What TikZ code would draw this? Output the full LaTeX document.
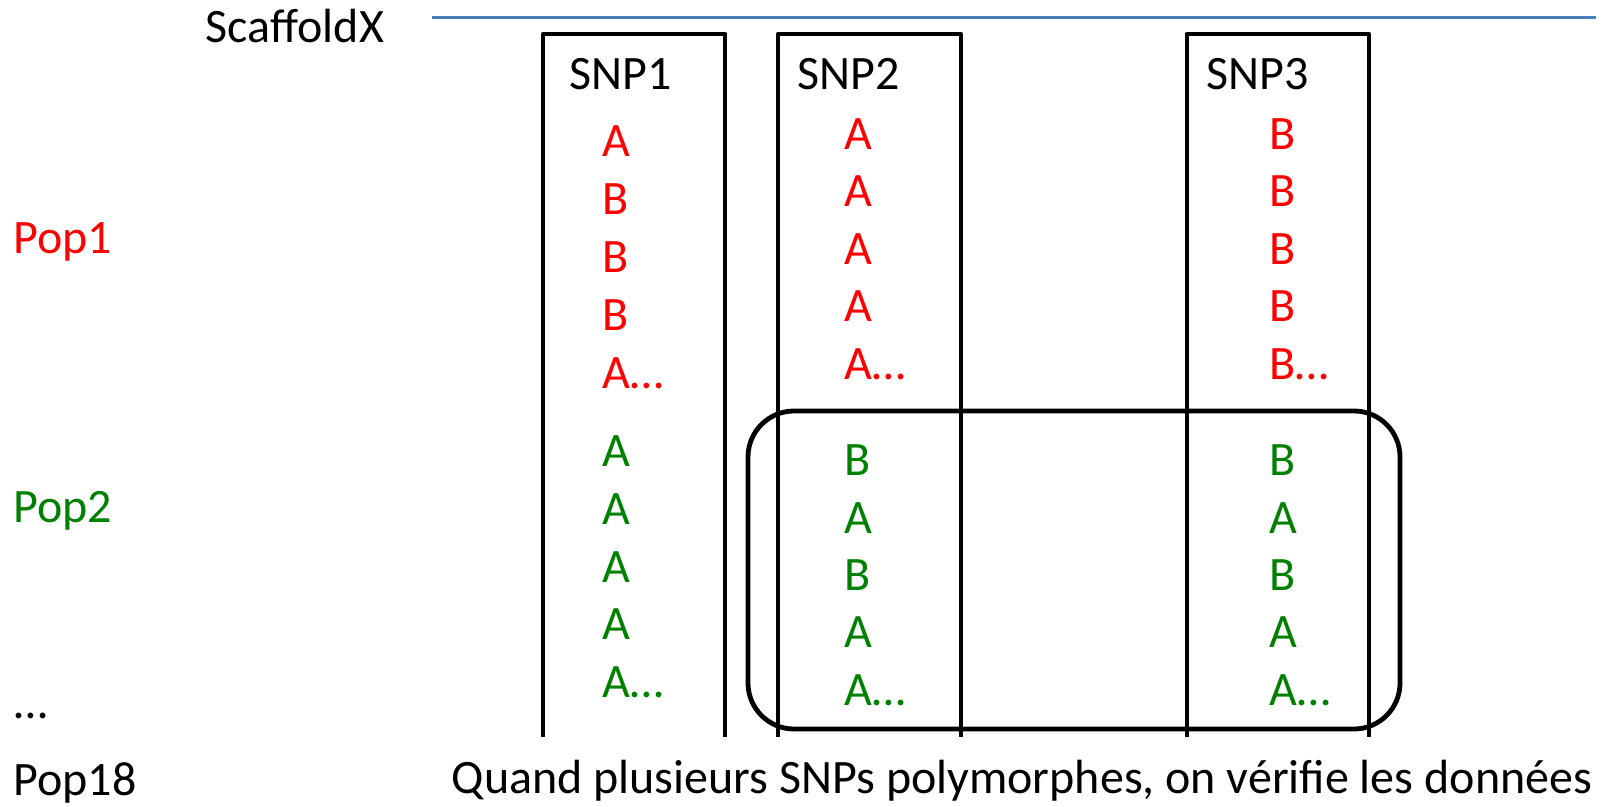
\documentclass[tikz,border=0pt]{standalone}
\usepackage{fontspec}
\setmainfont{Carlito}
\definecolor{popred}{RGB}{255,0,0}
\definecolor{popgreen}{RGB}{0,128,0}
\definecolor{scafblue}{RGB}{74,126,187}
\begin{document}
\begin{tikzpicture}[x=0.5pt,y=-0.5pt,
  txt/.style={inner sep=0pt,font=\fontsize{24}{28}\selectfont},
  red/.style={txt,text=popred,anchor=west},
  grn/.style={txt,text=popgreen,anchor=west},
  lbl/.style={txt,anchor=west},
  colbox/.style={draw=black,line width=2.4pt,line join=round},
  grp/.style={draw=black,line width=2.4pt,rounded corners=23pt}]
\useasboundingbox (0,0) rectangle (1604,807);
% scaffold
\node[txt] (scaf) at (295,26) {ScaffoldX};
\coordinate (bl1) at (432,17.5);
\coordinate (bl2) at (1596,17.5);
\draw[scafblue,line width=1.2pt] (bl1) -- (bl2);
% columns
\draw[colbox] (543,737) -- (543,34) -- (725,34) -- (725,737);
\draw[colbox] (778,737) -- (778,34) -- (961,34) -- (961,737);
\draw[colbox] (1187,737) -- (1187,34) -- (1369,34) -- (1369,737);
\node[txt] (snp1) at (621,74) {SNP1};
\node[txt] (snp2) at (849,74) {SNP2};
\node[txt] (snp3) at (1258,74) {SNP3};
% group box
\draw[grp] (748,411) rectangle (1400,729);
% pop labels
\node[txt,text=popred,anchor=west] (pop1) at (13,242) {Pop1};
\node[txt,text=popgreen,anchor=west] (pop2) at (13,511) {Pop2};
\node[lbl] (dots) at (14,716) {…};
\node[lbl] (pop18) at (13,783) {Pop18};
% column 1
\node[red] (a11) at (602,141) {A};
\node[red] (a12) at (602,199.5) {B};
\node[red] (a13) at (602,257) {B};
\node[red] (a14) at (602,315) {B};
\node[red] (a15) at (602,373) {A…};
\node[grn] (a16) at (602,451) {A};
\node[grn] (a17) at (602,509.5) {A};
\node[grn] (a18) at (602,567) {A};
\node[grn] (a19) at (602,624) {A};
\node[grn] (a110) at (602,682) {A…};
% column 2
\node[red] (a21) at (844,134) {A};
\node[red] (a22) at (844,191) {A};
\node[red] (a23) at (844,249) {A};
\node[red] (a24) at (844,306) {A};
\node[red] (a25) at (844,364) {A…};
\node[grn] (a26) at (844,460) {B};
\node[grn] (a27) at (844,518) {A};
\node[grn] (a28) at (844,575) {B};
\node[grn] (a29) at (844,632) {A};
\node[grn] (a210) at (844,690) {A…};
% column 3
\node[red] (a31) at (1269,134) {B};
\node[red] (a32) at (1269,191) {B};
\node[red] (a33) at (1269,249) {B};
\node[red] (a34) at (1269,306) {B};
\node[red] (a35) at (1269,364) {B…};
\node[grn] (a36) at (1269,460) {B};
\node[grn] (a37) at (1269,518) {A};
\node[grn] (a38) at (1269,575) {B};
\node[grn] (a39) at (1269,632) {A};
\node[grn] (a310) at (1269,690) {A…};
% caption
\node[txt] (cap) at (1022,781) {Quand plusieurs SNPs polymorphes, on vérifie les données};
\end{tikzpicture}
\end{document}
